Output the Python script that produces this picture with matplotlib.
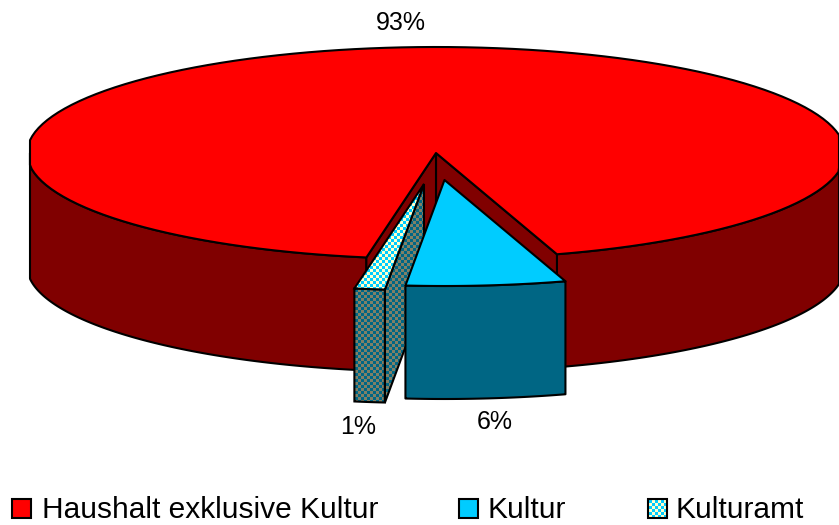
import numpy as np
import matplotlib
matplotlib.use('Agg')
import matplotlib.pyplot as plt
from matplotlib.patches import Polygon, Rectangle

plt.rcParams['font.family'] = ['Liberation Sans', 'DejaVu Sans']

categories = ['Haushalt exklusive Kultur', 'Kultur', 'Kulturamt']
shares = [92.5, 6.3, 1.2]
shown = ['93%', '6%', '1%']

# pie geometry, in pixels of the picture
cx, cy = 436, 153
a, b = 409, 106
depth = 113
start = 287.2
kultur_shift = (8.5, 27)
amt_shift = (-12, 31)
lw = 1.5

red, dark_red = '#ff0000', '#800000'
blue, dark_blue = '#00ccff', '#006684'
check_top = ('#00ccff', '#ffffcc')
check_side = ('#006684', '#808066')

fig = plt.figure(figsize=(8.39, 5.25), dpi=100)
ax = fig.add_axes([0, 0, 1, 1])
ax.set_xlim(0, 839)
ax.set_ylim(525, 0)
ax.axis('off')


def arc(t1, t2, dx=0, dy=0):
    t = np.radians(np.linspace(t1, t2, 150))
    # the reference flattens the far left and right of the ellipse
    x = np.clip(cx + dx + a * np.cos(t), 30, 839)
    return np.column_stack([x, cy + dy - b * np.sin(t)])


def poly(pts, fc, z=1):
    p = Polygon(pts, closed=True, fc=fc, ec='k', lw=lw, joinstyle='round', zorder=z)
    ax.add_patch(p)
    return p


def checker(pts, cols, z, step=3):
    # small check pattern clipped to a polygon, like the old office fill
    pts = np.array(pts)
    x0, x1 = pts[:, 0].min() - 2, pts[:, 0].max() + 2
    y0, y1 = pts[:, 1].min() - 2, pts[:, 1].max() + 2
    nx, ny = int((x1 - x0) / step) + 1, int((y1 - y0) / step) + 1
    g = np.indices((ny, nx)).sum(axis=0) % 2
    rgb = np.array([matplotlib.colors.to_rgb(c) for c in cols])[g]
    im = ax.imshow(rgb, extent=(x0, x0 + nx * step, y0 + ny * step, y0),
                   interpolation='nearest', aspect='auto', zorder=z)
    p = Polygon(pts, closed=True, fc='none', ec='k', lw=lw, zorder=z + 0.1)
    ax.add_patch(p)
    im.set_clip_path(p)


# angles follow from the shares, going clockwise from the start
kultur_end = start - shares[1] * 3.6
amt_end = kultur_end - shares[2] * 3.6
red_end = amt_end - shares[0] * 3.6

# outer wall of the big slice, left and right of the gap
for t1, t2 in [(180, amt_end), (start, 360)]:
    top_arc = arc(t1, t2)
    poly(np.vstack([top_arc, arc(t2, t1, dy=depth)]), dark_red, 1)

# inner walls seen inside the gap
for t in [start, amt_end]:
    edge = arc(t, t)[0]
    poly([(cx, cy), edge, (edge[0], edge[1] + depth), (cx, cy + depth)], dark_red, 2)

# top of the big slice
poly(np.vstack([[(cx, cy)], arc(amt_end, red_end)]), red, 3)

# Kulturamt slice
dx, dy = amt_shift
ax_pt = (cx + dx, cy + dy)
top = arc(kultur_end, amt_end, dx, dy)
checker(np.vstack([top, arc(amt_end, kultur_end, dx, dy + depth)]), check_side, 4)
r_edge = top[0]
checker([ax_pt, r_edge, (r_edge[0], r_edge[1] + depth), (ax_pt[0], ax_pt[1] + depth)], check_side, 4.2)
checker(np.vstack([[ax_pt], top]), check_top, 4.4)

# Kultur slice
dx, dy = kultur_shift
top = arc(start, kultur_end, dx, dy)
poly(np.vstack([top, arc(kultur_end, start, dx, dy + depth)]), dark_blue, 5)
poly(np.vstack([[(cx + dx, cy + dy)], top]), blue, 6)

# percent labels
label_pos = [(401, 23), (495, 422), (358, 427)]
for (x, y), s in zip(label_pos, shown):
    ax.text(x, y, s, ha='center', va='center', fontsize=18, color='k', zorder=8)

# legend
swatch_x = [12, 459, 648]
text_x = [42, 488, 676]
leg_cols = [red, blue, None]
for i, name in enumerate(categories):
    x = swatch_x[i]
    if leg_cols[i]:
        ax.add_patch(Rectangle((x, 499), 19, 19, fc=leg_cols[i], ec='k', lw=lw, zorder=7))
    else:
        checker([(x, 499), (x + 19, 499), (x + 19, 518), (x, 518)], check_top, 7)
    ax.text(text_x[i], 518, name, ha='left', va='baseline', fontsize=21.5, color='k', zorder=8)

ax.set_xlim(0, 839)
ax.set_ylim(525, 0)
fig.savefig('out.png', dpi=100)
